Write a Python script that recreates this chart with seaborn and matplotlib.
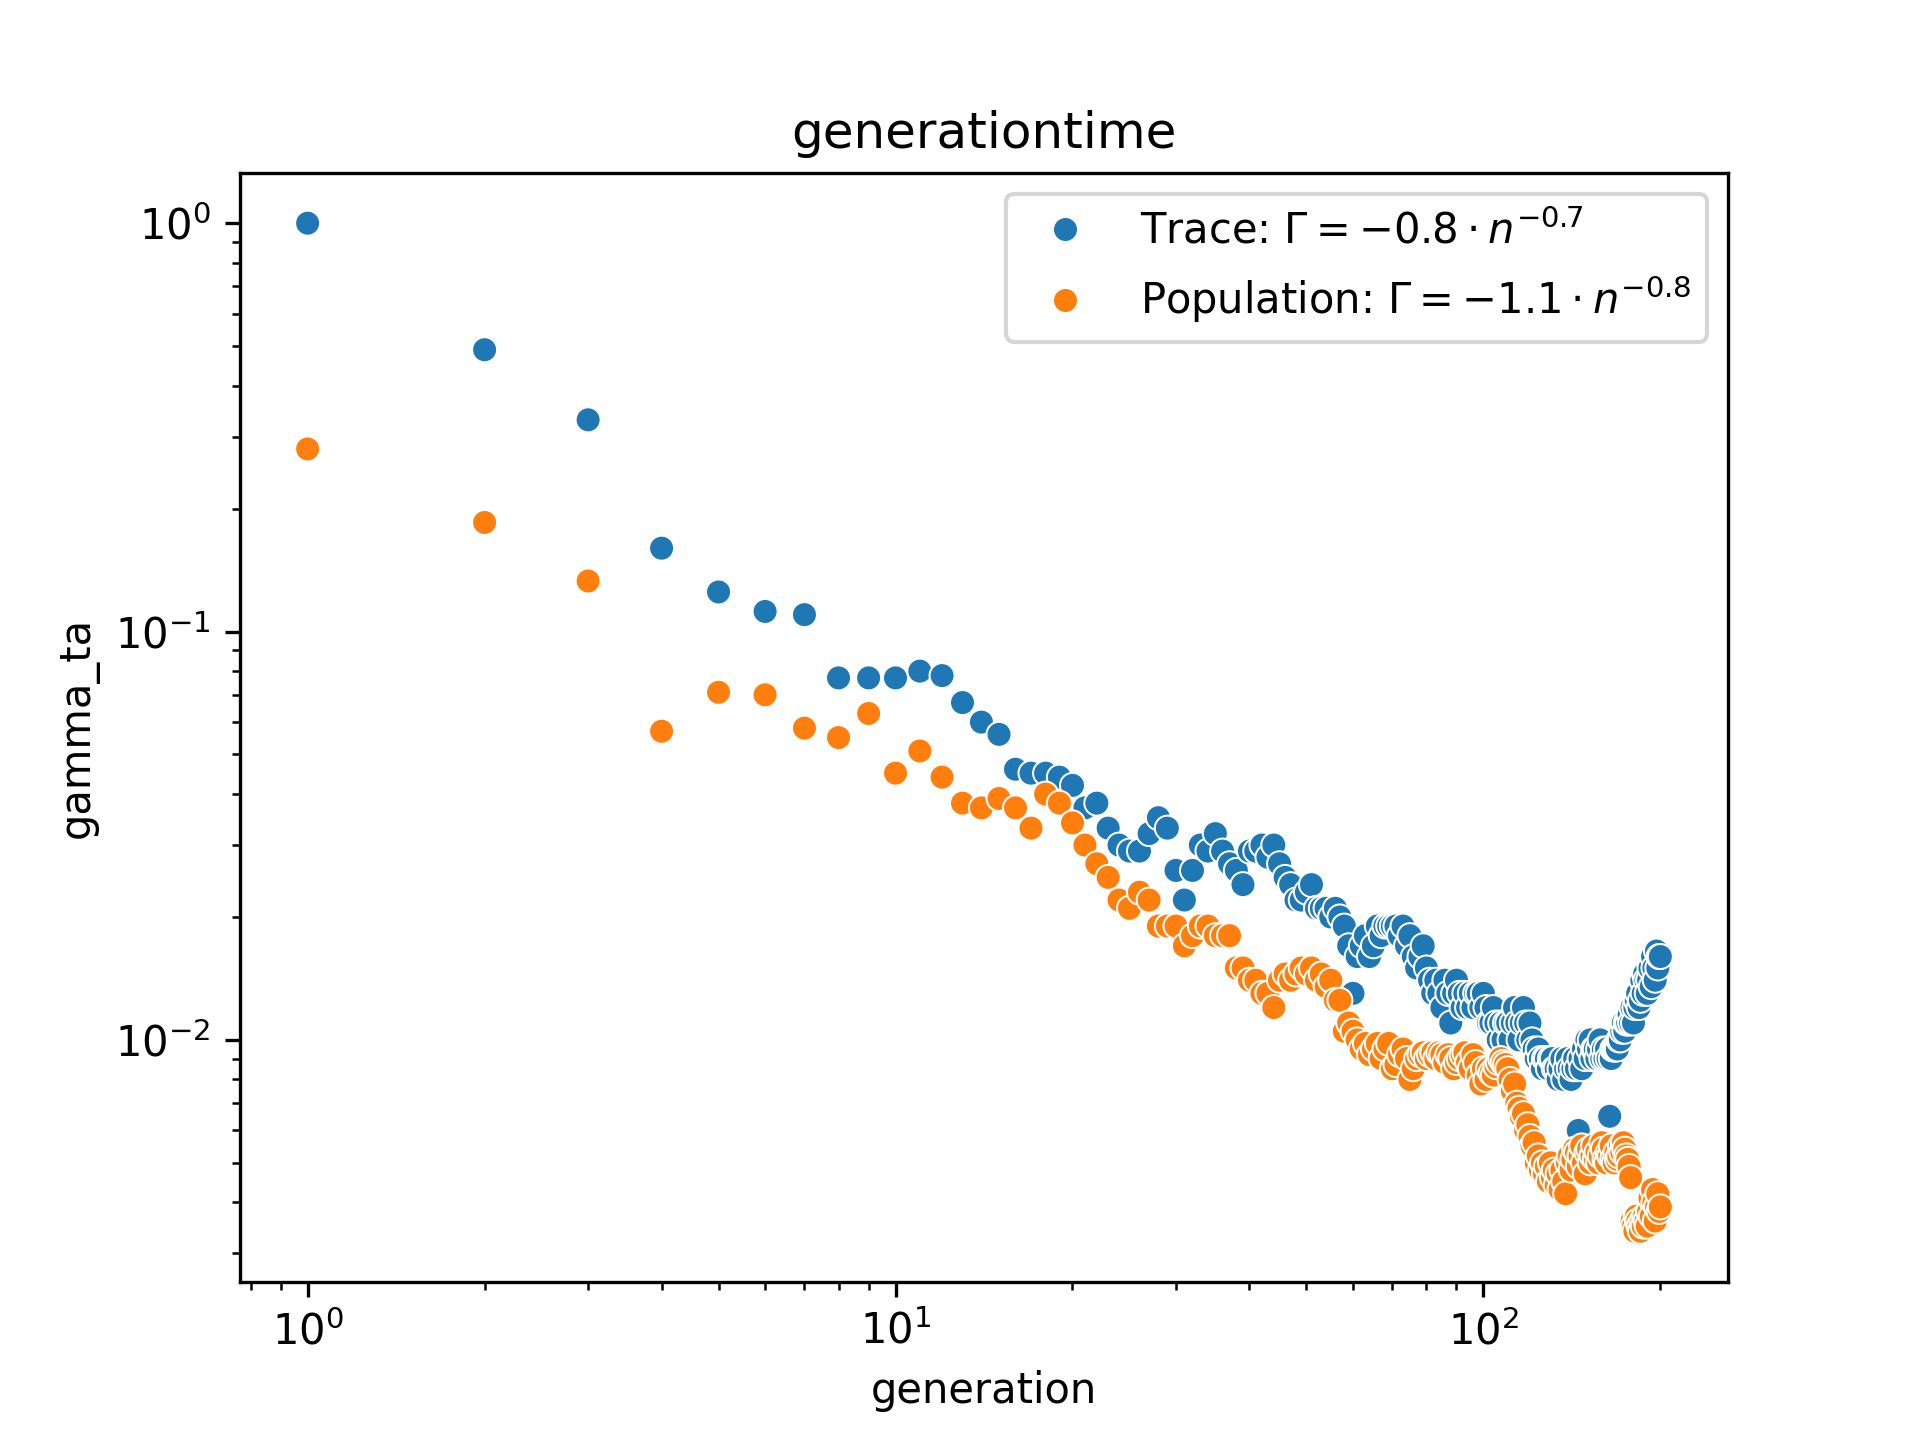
import matplotlib
matplotlib.use("Agg")
import matplotlib.pyplot as plt
import pandas as pd
import seaborn as sns

trace = [1.0, 0.49, 0.33, 0.16, 0.125, 0.112, 0.11, 0.077, 0.077, 0.077,
         0.08, 0.078, 0.067, 0.06, 0.056, 0.046, 0.045, 0.045, 0.044, 0.042,
         0.037, 0.038, 0.033, 0.030, 0.029, 0.029, 0.032, 0.035, 0.033, 0.026,
         0.022, 0.026, 0.030, 0.029, 0.032, 0.029, 0.027, 0.026, 0.024, 0.029,
         0.029, 0.030, 0.028, 0.030, 0.027, 0.025, 0.024, 0.022, 0.022, 0.023,
         0.024, 0.021, 0.021, 0.021, 0.020, 0.021, 0.020, 0.019, 0.017, 0.013,
         0.016, 0.017, 0.018, 0.016, 0.017, 0.019, 0.018, 0.019, 0.019, 0.019,
         0.019, 0.018, 0.019, 0.017, 0.018, 0.016, 0.015, 0.016, 0.017, 0.015,
         0.014, 0.013, 0.014, 0.013, 0.012, 0.014, 0.013, 0.011, 0.013, 0.014,
         0.013, 0.012, 0.013, 0.012, 0.013, 0.012, 0.013, 0.013, 0.012, 0.013,
         0.012, 0.011, 0.011, 0.012, 0.011, 0.010, 0.011, 0.010, 0.011, 0.011,
         0.010, 0.011, 0.012, 0.011, 0.010, 0.011, 0.012, 0.011, 0.010, 0.011,
         0.010, 0.0095, 0.009, 0.0095, 0.009, 0.0085, 0.009, 0.009, 0.0085, 0.009,
         0.009, 0.0085, 0.0085, 0.008, 0.0085, 0.009, 0.008, 0.0085, 0.009, 0.0085,
         0.008, 0.0085, 0.009, 0.0085, 0.006, 0.009, 0.0085, 0.0095, 0.009, 0.01,
         0.0095, 0.01, 0.009, 0.0095, 0.0095, 0.009, 0.0095, 0.01, 0.009, 0.0095,
         0.009, 0.0095, 0.009, 0.0065, 0.009, 0.0095, 0.0095, 0.0095, 0.0095, 0.01,
         0.01, 0.0105, 0.011, 0.0105, 0.011, 0.011, 0.0115, 0.011, 0.012, 0.011,
         0.012, 0.0125, 0.013, 0.012, 0.0125, 0.014, 0.013, 0.0145, 0.014, 0.013,
         0.014, 0.015, 0.0135, 0.016, 0.015, 0.014, 0.0165, 0.015, 0.016, 0.016]

population = [0.28, 0.185, 0.133, 0.057, 0.071, 0.07, 0.058, 0.055, 0.063, 0.045,
              0.051, 0.044, 0.038, 0.037, 0.039, 0.037, 0.033, 0.040, 0.038, 0.034,
              0.030, 0.027, 0.025, 0.022, 0.021, 0.023, 0.022, 0.019, 0.019, 0.019,
              0.017, 0.018, 0.019, 0.019, 0.018, 0.018, 0.018, 0.015, 0.015, 0.014,
              0.014, 0.013, 0.013, 0.012,
              0.014, 0.0145, 0.014, 0.0145, 0.015, 0.0145, 0.015, 0.014, 0.0145, 0.0135, 0.014,
              0.0125, 0.0125, 0.0105, 0.011, 0.0105,
              0.01, 0.0095, 0.0098, 0.0092, 0.0095, 0.0098, 0.009, 0.0095, 0.0098, 0.0085,
              0.0087, 0.0092, 0.0095, 0.009, 0.008, 0.0085, 0.009, 0.0092, 0.0093, 0.009,
              0.0092, 0.0093, 0.009, 0.0093, 0.0092, 0.0088, 0.0092, 0.009, 0.0085, 0.0088,
              0.009, 0.0092, 0.0093, 0.0088, 0.0085, 0.0092, 0.0088, 0.0082, 0.0078, 0.0085,
              0.008, 0.0085, 0.0083, 0.0082, 0.0086, 0.0088, 0.009, 0.0088, 0.0087, 0.0085,
              0.008, 0.0075, 0.0078, 0.007, 0.0068, 0.0065, 0.0066, 0.006, 0.0062, 0.0058,
              0.0055, 0.0056, 0.005, 0.0052, 0.0048, 0.005, 0.0047, 0.0049, 0.0045, 0.005,
              0.0046, 0.0048, 0.0044, 0.0047, 0.0043, 0.0048, 0.0045, 0.0042, 0.005, 0.0052,
              0.0048, 0.0051, 0.0054, 0.0053, 0.0049, 0.0052, 0.0055, 0.005, 0.0047, 0.0053,
              0.0054, 0.005, 0.0052, 0.0055, 0.0051, 0.0053, 0.005, 0.0052, 0.0056, 0.0054,
              0.0051, 0.005, 0.0053, 0.0052, 0.0055, 0.0051, 0.005, 0.0053, 0.0051, 0.0052,
              0.0055, 0.0053, 0.0056, 0.0054, 0.0052, 0.0051, 0.0049, 0.0046, 0.0036, 0.0035,
              0.0034, 0.0037, 0.0036, 0.0035, 0.0034, 0.0036, 0.0035, 0.0037, 0.0036, 0.0035,
              0.0038, 0.0041, 0.0037, 0.0043, 0.004, 0.0036, 0.0039, 0.0042, 0.0038, 0.0039]

labels = [r'Trace: $\Gamma = -0.8 \cdot n^{-0.7}$',
          r'Population: $\Gamma = -1.1 \cdot n^{-0.8}$']

df = pd.concat([
    pd.DataFrame({"generation": range(1, len(trace) + 1), "gamma_ta": trace, "kind": labels[0]}),
    pd.DataFrame({"generation": range(1, len(population) + 1), "gamma_ta": population, "kind": labels[1]}),
])

fig, ax = plt.subplots(figsize=(6.4, 4.8), dpi=300)
sns.scatterplot(data=df, x="generation", y="gamma_ta", hue="kind", ax=ax, s=36)
ax.set_xscale("log")
ax.set_yscale("log")
ax.set_title("generationtime")
ax.legend(loc="upper right")
plt.savefig("out.png")
